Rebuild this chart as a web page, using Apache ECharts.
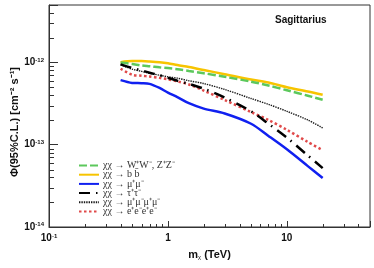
<!DOCTYPE html>
<html>
<head>
<meta charset="utf-8">
<script src="https://cdn.jsdelivr.net/npm/echarts@6/dist/echarts.min.js"></script>
<style>
html,body{margin:0;padding:0;background:#fff;}
#c{width:374px;height:268px;}
</style>
</head>
<body>
<div id="c"></div>
<script>
// ---- data (flux values in units of 1e-12 cm^-2 s^-1) ----
const UNIT = 1e-12;
const masses   = [0.4, 0.5, 0.6, 0.7, 0.85, 1, 1.2, 1.5, 2, 3, 5, 7, 10, 15, 20];
const fluxWWZZ = [1.0, 0.96, 0.92, 0.90, 0.875, 0.855, 0.83, 0.79, 0.74, 0.67, 0.585, 0.525, 0.46, 0.395, 0.352];
const fluxBB   = [1.01, 1.04, 1.04, 1.03, 1.01, 0.98, 0.93, 0.88, 0.81, 0.72, 0.62, 0.57, 0.50, 0.445, 0.405];
const fluxMuMu = [0.61, 0.565, 0.56, 0.55, 0.49, 0.43, 0.38, 0.32, 0.275, 0.24, 0.18, 0.128, 0.088, 0.055, 0.0394];
const fluxTauTau = [0.95, 0.86, 0.80, 0.75, 0.70, 0.65, 0.60, 0.55, 0.48, 0.375, 0.255, 0.18, 0.122, 0.074, 0.052];
const flux4Mu  = [0.94, 0.83, 0.78, 0.74, 0.70, 0.67, 0.645, 0.60, 0.555, 0.47, 0.365, 0.31, 0.255, 0.20, 0.16];
const flux4E   = [0.84, 0.71, 0.69, 0.675, 0.65, 0.625, 0.59, 0.54, 0.455, 0.35, 0.25, 0.2, 0.152, 0.108, 0.086];

const seriesNames = [
  'χχ → W⁺W⁻, Z⁺Z⁻',
  'χχ → b b̄',
  'χχ → μ⁺μ⁻',
  'χχ → τ⁺τ⁻',
  'χχ → μ⁺μ⁻μ⁺μ⁻',
  'χχ → e⁺e⁻e⁺e⁻'
];

const X_MIN = 0.1, X_MAX = 50;
const Y_MIN = 1e-14, Y_MAX = 5e-12;
const xMinorTicks = [0.2,0.3,0.4,0.5,0.6,0.7,0.8,0.9,2,3,4,5,6,7,8,9,20,30,40];
const yMinorTicks = [2e-14,3e-14,4e-14,5e-14,6e-14,7e-14,8e-14,9e-14,
                     2e-13,3e-13,4e-13,5e-13,6e-13,7e-13,8e-13,9e-13,
                     2e-12,3e-12,4e-12];

const chart = echarts.init(document.getElementById('c'), null, {renderer:'canvas'});

function pairs(vals){ return masses.map((m,i)=>[m, vals[i]*UNIT]); }
function isDecade(v){ const l = Math.log10(v); return Math.abs(l-Math.round(l))<1e-6; }

const axisCol = '#333';
const lineSeries = (name, vals, color, width, type, z) => ({
  name, type:'line', data: pairs(vals), symbol:'none', showSymbol:false, smooth:0.3,
  lineStyle:{color, width, type}, itemStyle:{color}, z, animation:false
});

const option = {
  animation:false,
  backgroundColor:'#fff',
  grid:{left:49, right:4, top:5, bottom:41, show:true, borderColor:axisCol, borderWidth:1, backgroundColor:'transparent'},
  title:{text:'Sagittarius', left:275, top:15, padding:0, textStyle:{fontFamily:'Liberation Sans', fontWeight:'bold', fontSize:10, color:'#111'}},
  legend:{
    orient:'vertical', left:78, top:160.5, padding:0, itemWidth:20, itemHeight:8, itemGap:-0.8,
    selectedMode:false, data: seriesNames,
    itemStyle:{opacity:0},
    textStyle:{fontFamily:'Liberation Serif', fontSize:10, color:'#333', lineHeight:8.2, padding:[0,0,0,-1]}
  },
  xAxis:{
    type:'log', logBase:10, min:X_MIN, max:X_MAX,
    axisLine:{show:true, lineStyle:{color:axisCol, width:1}},
    axisTick:{show:true, inside:true, length:6, lineStyle:{color:axisCol}},
    splitLine:{show:false},
    axisLabel:{
      margin:6,
      formatter:v=>{
        if(!isDecade(v)) return '';
        const e = Math.round(Math.log10(v));
        if(e>=0) return '{a|'+Math.round(v)+'}';
        return '{a|10}{s|'+e+'}';
      },
      rich:{a:{fontFamily:'Liberation Sans', fontWeight:'bold', fontSize:10, color:'#111'},
            s:{fontFamily:'Liberation Sans', fontWeight:'bold', fontSize:6, color:'#111', verticalAlign:'top', padding:[0,0,5,0]}}
    },
    name:'{m|m}{sub|χ}{m| (TeV)}', nameLocation:'middle', nameGap:22,
    nameTextStyle:{rich:{m:{fontFamily:'Liberation Sans', fontWeight:'bold', fontSize:11, color:'#111'},
                         sub:{fontFamily:'Liberation Serif', fontSize:7, color:'#111', padding:[5,0,0,0]}}}
  },
  yAxis:{
    type:'log', logBase:10, min:Y_MIN, max:Y_MAX,
    axisLine:{show:true, lineStyle:{color:axisCol, width:1}},
    axisTick:{show:true, inside:true, length:9, lineStyle:{color:axisCol}},
    splitLine:{show:false},
    axisLabel:{
      margin:5,
      formatter:v=>{
        if(!isDecade(v)) return '';
        const e = Math.round(Math.log10(v));
        return '{a|10}{s|'+e+'}';
      },
      rich:{a:{fontFamily:'Liberation Sans', fontWeight:'bold', fontSize:10, color:'#111'},
            s:{fontFamily:'Liberation Sans', fontWeight:'bold', fontSize:6, color:'#111', verticalAlign:'top', padding:[0,0,5,0]}}
    }
  },
  graphic:[{
    type:'text', x:15, y:122, rotation:Math.PI/2,
    style:{text:'Φ(95%C.L.) [cm⁻² s⁻¹]', fill:'#111', font:'bold 11px "Liberation Sans"', align:'center', verticalAlign:'middle'}
  }],
  series:[
    {type:'custom', name:'xminor', data: xMinorTicks.map(v=>[v, Y_MIN]), silent:true, z:1, clip:false,
     renderItem:(p, api)=>{ const c = api.coord([api.value(0), Y_MIN]); const x = Math.round(c[0])+0.5;
       return {type:'line', shape:{x1:x, y1:c[1], x2:x, y2:c[1]-3}, style:{stroke:axisCol, lineWidth:1}}; }},
    {type:'custom', name:'yminor', data: yMinorTicks.map(v=>[X_MIN, v]), silent:true, z:1, clip:false,
     renderItem:(p, api)=>{ const c = api.coord([X_MIN, api.value(1)]); const y = Math.round(c[1])+0.5;
       return {type:'line', shape:{x1:c[0], y1:y, x2:c[0]+5, y2:y}, style:{stroke:axisCol, lineWidth:1}}; }},
    lineSeries(seriesNames[0], fluxWWZZ, '#5cc85c', 2.5, [8,3], 3),
    lineSeries(seriesNames[1], fluxBB, '#f7c400', 2.5, 'solid', 2),
    lineSeries(seriesNames[2], fluxMuMu, '#1020f0', 2.5, 'solid', 3),
    lineSeries(seriesNames[3], fluxTauTau, '#000000', 2.5, [11,6,1.5,6], 4),
    lineSeries(seriesNames[4], flux4Mu, '#1a1a1a', 1.4, [1.4,1], 3),
    lineSeries(seriesNames[5], flux4E, '#e04a4a', 2.5, [2.5,2.5], 3)
  ]
};
chart.setOption(option);
</script>
</body>
</html>
